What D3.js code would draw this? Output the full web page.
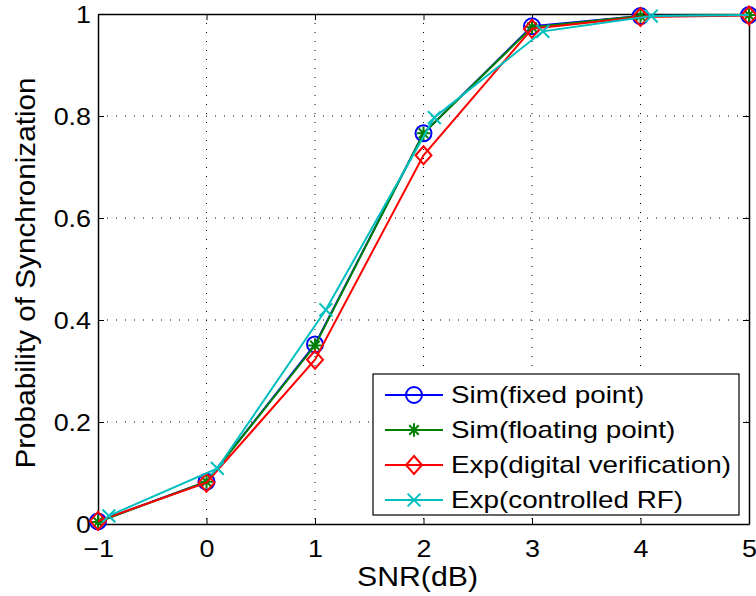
<!DOCTYPE html>
<html>
<head>
<meta charset="utf-8">
<script src="https://cdn.jsdelivr.net/npm/d3@7"></script>
<style>
  body { margin: 0; background: #fff; }
  text { font-family: "Liberation Sans", Arial, sans-serif; fill: #000; }
</style>
</head>
<body>
<div id="chart"></div>
<script>
// SNR values (dB)
const snr = [-1, 0, 1, 2, 3, 4, 5];
// controlled RF points are plotted with a small offset
const snrRF = [-0.9, 0.1, 1.1, 2.1, 3.1, 4.1, 5.1];

const simFixed = [0.005, 0.083, 0.352, 0.766, 0.976, 0.996, 0.998];
const simFloat = [0.004, 0.083, 0.350, 0.766, 0.974, 0.996, 0.998];
const expDigital = [0.006, 0.081, 0.322, 0.723, 0.971, 0.994, 0.997];
const expRF = [0.016, 0.109, 0.420, 0.797, 0.966, 0.996, 0.998];

const xTicks = [-1, 0, 1, 2, 3, 4, 5];
const yTicks = [0, 0.2, 0.4, 0.6, 0.8, 1];

const series = [
  { name: "Sim(fixed point)", xs: snr, ys: simFixed, color: "#0000ff", marker: "circle" },
  { name: "Sim(floating point)", xs: snr, ys: simFloat, color: "#008000", marker: "star" },
  { name: "Exp(digital verification)", xs: snr, ys: expDigital, color: "#ff0000", marker: "diamond" },
  { name: "Exp(controlled RF)", xs: snrRF, ys: expRF, color: "#00bfbf", marker: "x" }
];

const W = 756, H = 596;
const margin = { top: 14, right: 7, bottom: 72, left: 98 };
const width = W - margin.left - margin.right;
const height = H - margin.top - margin.bottom;
const SX = 1.12; // the reference glyphs are a little wider than Liberation Sans

const svg = d3.select("#chart").append("svg")
  .attr("width", W).attr("height", H);

svg.append("defs").append("clipPath").attr("id", "plotclip")
  .append("rect").attr("width", width).attr("height", height);

const g = svg.append("g").attr("transform", `translate(${margin.left},${margin.top})`);

const x = d3.scaleLinear().domain([-1, 5]).range([0, width]);
const y = d3.scaleLinear().domain([0, 1]).range([height, 0]);

// grid (dotted)
g.append("g").selectAll("line").data(xTicks.slice(1, -1)).join("line")
  .attr("x1", d => x(d)).attr("x2", d => x(d))
  .attr("y1", 0).attr("y2", height)
  .attr("stroke", "#000").attr("stroke-width", 1)
  .attr("stroke-dasharray", "1,8");
g.append("g").selectAll("line").data(yTicks.slice(1, -1)).join("line")
  .attr("y1", d => y(d)).attr("y2", d => y(d))
  .attr("x1", 0).attr("x2", width)
  .attr("stroke", "#000").attr("stroke-width", 1)
  .attr("stroke-dasharray", "1,8");

// axes: ticks pointing inward, on all four sides
const fmtX = d => d < 0 ? "\u2212" + Math.abs(d) : String(d);
const xAxis = g.append("g").attr("transform", `translate(0,${height})`)
  .call(d3.axisBottom(x).tickValues(xTicks).tickFormat(fmtX).tickSizeInner(-6).tickSizeOuter(0));
const yAxis = g.append("g")
  .call(d3.axisLeft(y).tickValues(yTicks).tickFormat(d => String(d)).tickSizeInner(-6).tickSizeOuter(0));
g.append("g").call(d3.axisTop(x).tickValues(xTicks).tickFormat("").tickSizeInner(-6).tickSizeOuter(0));
g.append("g").attr("transform", `translate(${width},0)`)
  .call(d3.axisRight(y).tickValues(yTicks).tickFormat("").tickSizeInner(-6).tickSizeOuter(0));

g.selectAll(".domain").attr("stroke", "#000").attr("stroke-width", 1.5);
g.selectAll(".tick line").attr("stroke", "#000");
xAxis.selectAll("text")
  .style("font-size", "24px").attr("fill", "#000")
  .attr("y", 33).attr("dy", null)
  .attr("transform", `scale(${SX},1)`);
yAxis.selectAll("text")
  .style("font-size", "24px").attr("fill", "#000")
  .attr("x", -7 / SX).attr("dy", "0.35em")
  .attr("transform", `scale(${SX},1)`);

// series
const line = d3.line().x(d => x(d[0])).y(d => y(d[1]));

function drawMarker(sel, type, color, size) {
  const r = size / 2;
  if (type === "circle") {
    sel.append("circle").attr("r", r).attr("fill", "none").attr("stroke", color).attr("stroke-width", 2);
  } else if (type === "diamond") {
    sel.append("path").attr("d", `M0,${-r - 1}L${r},0L0,${r + 1}L${-r},0Z`)
      .attr("fill", "none").attr("stroke", color).attr("stroke-width", 2);
  } else if (type === "star") {
    const s = r * 0.85;
    sel.append("path")
      .attr("d", `M${-s},0L${s},0M0,${-s}L0,${s}M${-s * 0.7},${-s * 0.7}L${s * 0.7},${s * 0.7}M${-s * 0.7},${s * 0.7}L${s * 0.7},${-s * 0.7}`)
      .attr("stroke", color).attr("stroke-width", 2);
  } else if (type === "x") {
    const s = r * 0.8;
    sel.append("path").attr("d", `M${-s},${-s}L${s},${s}M${-s},${s}L${s},${-s}`)
      .attr("stroke", color).attr("stroke-width", 2);
  }
}

series.forEach(s => {
  const pts = s.xs.map((v, i) => [v, s.ys[i]]);
  g.append("path").datum(pts)
    .attr("clip-path", "url(#plotclip)")
    .attr("d", line)
    .attr("fill", "none").attr("stroke", s.color).attr("stroke-width", 2);
  pts.filter(p => p[0] <= 5).forEach(p => {
    const m = g.append("g").attr("transform", `translate(${x(p[0])},${y(p[1])})`);
    drawMarker(m, s.marker, s.color, 16);
  });
});

// axis labels
svg.append("text")
  .attr("transform", `translate(${margin.left + width / 2 - 6},586) scale(${SX},1)`)
  .attr("text-anchor", "middle").style("font-size", "27px")
  .text("SNR(dB)");
svg.append("text")
  .attr("transform", `translate(35,${margin.top + height / 2 + 4}) rotate(-90) scale(1.1,1)`)
  .attr("text-anchor", "middle").style("font-size", "27px")
  .text("Probability of Synchronization");

// legend
const legend = svg.append("g").attr("transform", "translate(373,374)");
legend.append("rect").attr("width", 366).attr("height", 141)
  .attr("fill", "#fff").attr("stroke", "#000").attr("stroke-width", 1.2);
series.forEach((s, i) => {
  const row = legend.append("g").attr("transform", `translate(0,${21 + i * 35})`);
  row.append("line").attr("x1", 12).attr("x2", 70).attr("y1", 0).attr("y2", 0)
    .attr("stroke", s.color).attr("stroke-width", 2);
  const m = row.append("g").attr("transform", "translate(41,0)");
  drawMarker(m, s.marker, s.color, 16);
  row.append("text")
    .attr("transform", `translate(78,0) scale(1.16,1)`)
    .attr("dy", "0.35em")
    .style("font-size", "24px").text(s.name);
});
</script>
</body>
</html>
